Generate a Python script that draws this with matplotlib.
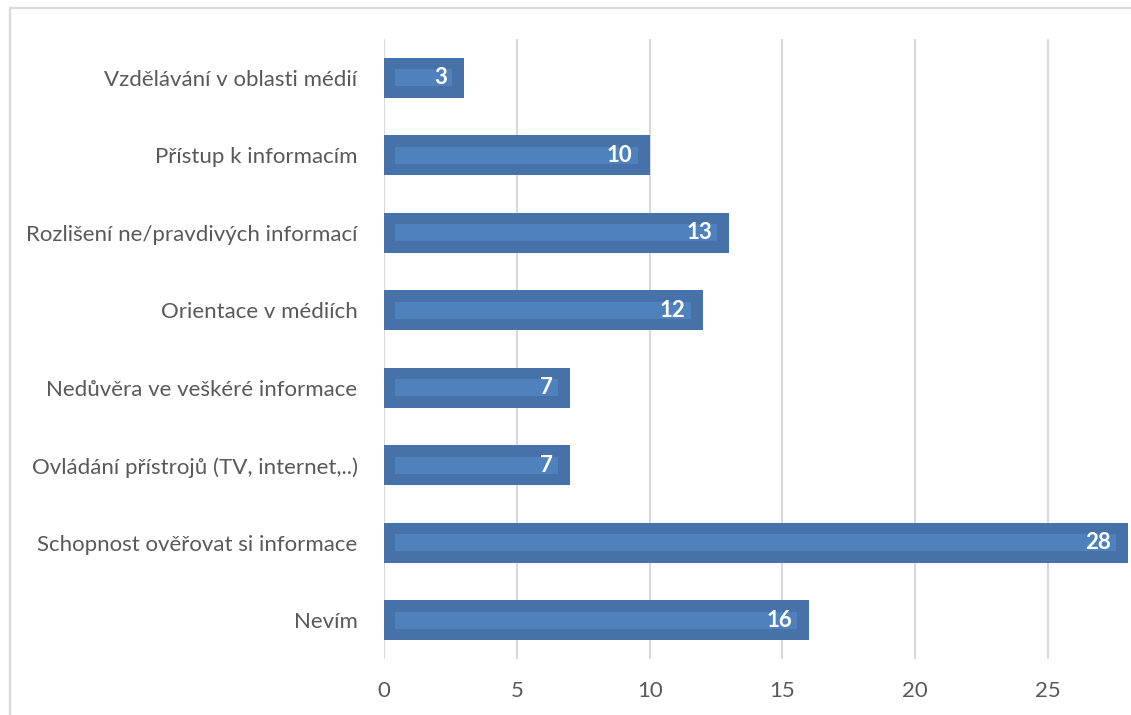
import matplotlib
matplotlib.use("Agg")
import matplotlib.pyplot as plt
from matplotlib.patches import Rectangle

categories = [
    "Vzdělávání v oblasti médií",
    "Přístup k informacím",
    "Rozlišení ne/pravdivých informací",
    "Orientace v médiích",
    "Nedůvěra ve veškéré informace",
    "Ovládání přístrojů (TV, internet,..)",
    "Schopnost ověřovat si informace",
    "Nevím",
]
values = [3, 10, 13, 12, 7, 7, 28, 16]
xticks = [0, 5, 10, 15, 20, 25]

W, H = 1131, 715
fig = plt.figure(figsize=(W / 100, H / 100), dpi=100)
plt.rcParams["font.family"] = ["Lato", "DejaVu Sans"]

# chart-area frame
fig.patches.append(Rectangle((10 / W, -0.05), 1.2, 1 - 8 / H + 0.05,
                             transform=fig.transFigure, fill=False,
                             edgecolor="#D9D9D9", linewidth=1.6))

ax_left, ax_right = 384, 1131
ax_top, ax_bottom = 39, 659
ax = fig.add_axes([ax_left / W, 1 - ax_bottom / H,
                   (ax_right - ax_left) / W, (ax_bottom - ax_top) / H])

xmax = 28.12
ax.set_xlim(0, xmax)
n = len(categories)
ax.set_ylim(n - 0.5, -0.5)
ypos = list(range(n))

ax.set_xticks(xticks)
ax.grid(axis="x", color="#D9D9D9", linewidth=1.5)
ax.set_axisbelow(True)
for s in ax.spines.values():
    s.set_visible(False)

outer = "#4672A9"
inner = "#4F81BD"
ax.barh(ypos, values, height=0.52, color=outer, zorder=2)

# lighter inner band, inset a few pixels from each end
px = xmax / (ax_right - ax_left)
inset_l, inset_r = 11 * px, 12 * px
ax.barh(ypos, [v - inset_l - inset_r for v in values], left=inset_l,
        height=0.22, color=inner, zorder=3)

for y, v in zip(ypos, values):
    ax.text(v - 17 * px, y, str(v), ha="right", va="center",
            color="white", fontsize=16, fontweight="bold", zorder=4)

ax.set_yticks(ypos)
ax.set_yticklabels(categories)
ax.tick_params(axis="y", length=0, pad=19, labelsize=16, labelcolor="#595959")
ax.tick_params(axis="x", length=0, pad=16, labelsize=16, labelcolor="#595959")

fig.savefig("out.png", dpi=100)
